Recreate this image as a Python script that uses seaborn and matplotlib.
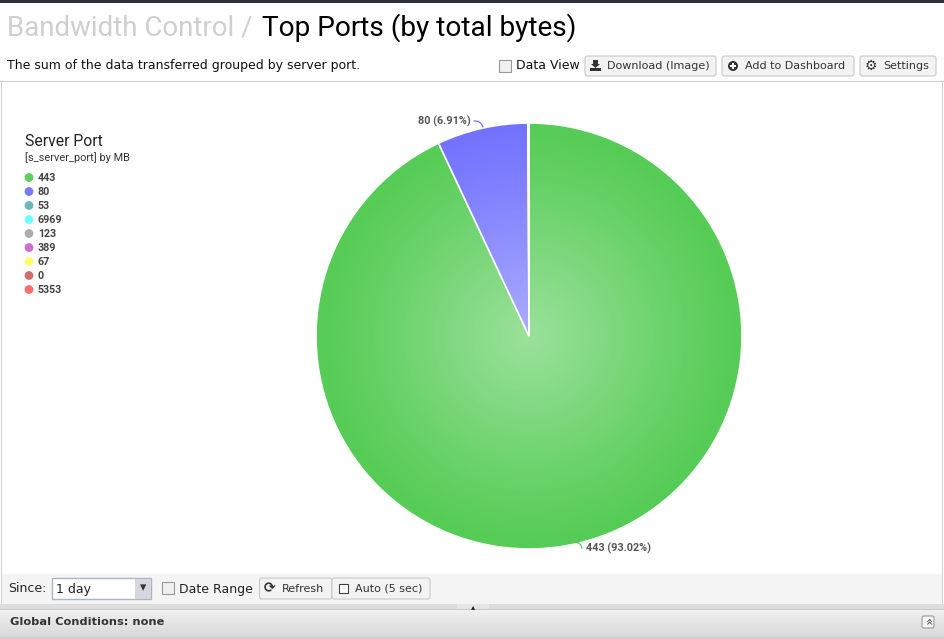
import numpy as np
import pandas as pd
import matplotlib
matplotlib.use("Agg")
import matplotlib.pyplot as plt
from matplotlib.patches import Circle, FancyBboxPatch, Polygon, Rectangle
import seaborn as sns

# chart values
ports = ["443", "80", "53", "6969", "123", "389", "67", "0", "5353"]
shares = [93.02, 6.91, 0.03, 0.02, 0.01, 0.004, 0.003, 0.002, 0.001]
colors = ["#55cc55", "#7272ff", "#66b3b3", "#66ffff", "#aaaaaa",
          "#cc66cc", "#ffff66", "#cc6666", "#ff6666"]
pie_labels = ["443 (93.02%)", "80 (6.91%)"]

sns.set_theme(style="white")
narrow = "Roboto"
plt.rcParams["font.family"] = ["DejaVu Sans"]

W, H = 944, 639
fig = plt.figure(figsize=(W / 100, H / 100), dpi=100, facecolor="white")

# pie
cx, cy, r = 529, 336, 213
pie_ax = fig.add_axes([(cx - r) / W, 1 - (cy + r) / H, 2 * r / W, 2 * r / H])
wedges, _ = pie_ax.pie(shares, colors=colors, startangle=90, counterclock=False,
                       radius=1, wedgeprops={"edgecolor": "white", "linewidth": 1.2})
yy, xx = np.mgrid[-1:1:300j, -1:1:300j]
glow = np.zeros((300, 300, 4))
glow[..., :3] = 1
glow[..., 3] = 0.42 * np.clip(1 - np.hypot(xx, yy), 0, 1) ** 1.1
im = pie_ax.imshow(glow, extent=(-1, 1, -1, 1), zorder=5, aspect="auto")
im.set_clip_path(Circle((0, 0), 1, transform=pie_ax.transData))
pie_ax.set_xlim(-1, 1)
pie_ax.set_ylim(-1, 1)
pie_ax.axis("off")

# everything else is placed in pixel coordinates on top
ax = fig.add_axes([0, 0, 1, 1], facecolor="none")
ax.axis("off")


def bar(x0, y0, x1, y1, color, z=1):
    ax.add_patch(Rectangle((x0, y0), x1 - x0, y1 - y0, fc=color, ec="none", zorder=z))


def gradient(x0, y0, x1, y1, top, bottom):
    ramp = np.linspace(top, bottom, 40)[:, None]
    ax.imshow(ramp, extent=(x0, x1, y1, y0), cmap="gray", vmin=0, vmax=1, aspect="auto", zorder=1)


def button(x0, x1, y0, y1, label, tx=None):
    ax.add_patch(FancyBboxPatch((x0, y0), x1 - x0, y1 - y0, boxstyle="round,pad=0,rounding_size=2.5",
                                fc="#f3f3f3", ec="#c8c8c8", lw=0.8, zorder=2))
    ax.text(tx, (y0 + y1) / 2, label, fontsize=8, color="#333333", va="center", zorder=3)


def checkbox(x, y, size=12):
    ax.add_patch(Rectangle((x, y), size, size, fc="#f0f0f0", ec="#999999", lw=0.8, zorder=3))


# page chrome
bar(0, 0, W, 2.5, "#2b3038")
bar(0, 81, W, 82, "#cccccc")
bar(1, 82, 2, 605, "#d0d0d0")
bar(942, 82, 943, 605, "#d0d0d0")
bar(2, 574, 942, 604, "#f4f4f4")
bar(0, 604, W, 609, "#dddddd")
bar(0, 609, W, 610, "#c8c8c8")
gradient(0, 610, W, 637, 0.94, 0.85)
bar(0, 637, W, 639, "#d0d0d0")

ax.text(7, 28, "Bandwidth Control /", fontsize=19.9, family=narrow, color="#cfcfcf", va="center")
ax.text(262, 28, "Top Ports (by total bytes)", fontsize=20.2, family=narrow, color="black", va="center")
ax.text(7, 65, "The sum of the data transferred grouped by server port.", fontsize=9, color="#111111", va="center")

checkbox(499, 60)
ax.text(516, 65.5, "Data View", fontsize=9, color="#111111", va="center")
button(585, 716, 56, 76, "Download (Image)", 607)
button(722, 854, 56, 76, "Add to Dashboard", 745)
button(860, 936, 56, 76, "Settings", 883)

# button icons
ax.add_patch(Polygon([[593, 60], [598, 60], [598, 64], [600, 64], [595.5, 68], [591, 64], [593, 64]],
                     fc="#333333", ec="none", zorder=4))
bar(590, 68, 601, 71, "#333333", 4)
ax.add_patch(Circle((733, 66), 5, fc="#333333", ec="none", zorder=4))
bar(730, 65.2, 736, 66.8, "white", 5)
bar(732.2, 63, 733.8, 69, "white", 5)
ax.text(871, 65.5, "⚙", fontsize=10, weight="bold", color="#333333", ha="center", va="center", zorder=4)

# legend
ax.text(25, 141, "Server Port", fontsize=11.3, family=narrow, color="#222222", va="center")
ax.text(25, 157.5, "[s_server_port] by MB", fontsize=7.9, family=narrow, color="#333333", va="center")
legend = pd.DataFrame({"port": ports, "row": np.arange(len(ports))})
legend["x"] = 29
legend["y"] = 177.5 + 14 * legend["row"]
sns.scatterplot(data=legend, x="x", y="y", hue="port", palette=dict(zip(ports, colors)), s=40,
                alpha=0.95, linewidth=0, legend=False, ax=ax, zorder=3)
for _, row in legend.iterrows():
    ax.text(38, row["y"] + 0.5, row["port"], fontsize=7.7, family=narrow, weight="bold", color="#444444", va="center")

# pie labels and leaders
ax.text(586, 548, pie_labels[0], fontsize=7.8, family=narrow, weight="bold", color="#555555", va="center")
ax.text(418, 121, pie_labels[1], fontsize=7.8, family=narrow, weight="bold", color="#555555", va="center")
ax.annotate("", xy=(582, 548.5), xytext=(575, 542), zorder=4,
            arrowprops={"arrowstyle": "-", "color": colors[0], "lw": 0.9, "shrinkA": 0, "shrinkB": 0,
                        "connectionstyle": "arc3,rad=-0.4"})
ax.annotate("", xy=(474, 121), xytext=(483, 127), zorder=4,
            arrowprops={"arrowstyle": "-", "color": colors[1], "lw": 0.9, "shrinkA": 0, "shrinkB": 0,
                        "connectionstyle": "arc3,rad=0.4"})

# bottom controls
ax.text(8, 588.5, "Since:", fontsize=9, color="#222222", va="center")
ax.add_patch(Rectangle((52, 578), 99, 21, fc="white", ec="#a9b4c4", lw=1, zorder=2))
bar(135, 579, 151, 599, "#d4d8de", 3)
ax.text(143, 588, "▾", fontsize=9, color="#333333", ha="center", va="center", zorder=4)
ax.text(56, 589, "1 day", fontsize=9, color="#222222", va="center", zorder=4)
checkbox(162, 582)
ax.text(179, 589, "Date Range", fontsize=9, color="#222222", va="center")
button(259.5, 332, 578, 599, "Refresh", 282)
button(332, 430, 578, 599, "Auto (5 sec)", 355)
ax.text(270, 588, "⟳", fontsize=10, weight="bold", color="#333333", ha="center", va="center", zorder=4)
ax.add_patch(Rectangle((339, 584), 9, 9, fc="white", ec="#444444", lw=0.8, zorder=3))
ax.text(10, 622, "Global Conditions: none", fontsize=8.2, weight="bold", color="#333333", va="center", zorder=3)
ax.add_patch(FancyBboxPatch((922, 616), 12, 12, boxstyle="round,pad=0,rounding_size=2",
                            fc="#f4f4f4", ec="#999999", lw=0.8, zorder=3))
ax.text(928, 621.5, "«", fontsize=9, color="#444444", rotation=-90, ha="center", va="center", zorder=4)
bar(457, 604, 489, 609, "#e6e6e6", 2)
ax.text(473, 607, "▴", fontsize=6, color="#222222", ha="center", va="center", zorder=4)

ax.set_xlim(0, W)
ax.set_ylim(H, 0)
fig.savefig("out.png", dpi=100)
